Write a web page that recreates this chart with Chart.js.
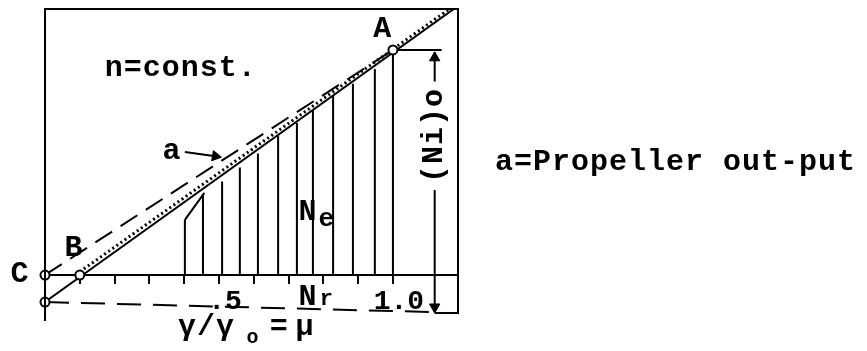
<!DOCTYPE html>
<html><head><meta charset="utf-8">
<script src="https://cdn.jsdelivr.net/npm/chart.js@4/dist/chart.umd.min.js"></script>
<style>html,body{margin:0;padding:0;background:#fff;overflow:hidden}canvas{display:block}</style>
</head><body>
<canvas id="c" width="867" height="351"></canvas>
<script>
// ---- data (mu = r/r0 on x, power on y; (Ni)o at A = 1.0) ----
const tickValues = [0.1, 0.2, 0.3, 0.4, 0.5, 0.6, 0.7, 0.8, 0.9, 1.0];
const tickLabels = ['', '', '', '', '.5', '', '', '', '', '1.0'];
// solid line Ni
const niMu  = [0, 1.175];
const niVal = [-0.12, 1.182];
// a = propeller out-put (dotted), starting at B
const propMu  = [0.10, 1.175];
const propVal = [0.014, 1.196];
// dashed line C -> A
const caMu  = [0, 1.0];
const caVal = [0, 1.0];
// lower dashed base line
const baseMu  = [0, 1.12];
const baseVal = [-0.12, -0.165];
// Ne hatching (vertical lines)
const hatchMu  = [0.402, 0.454, 0.509, 0.560, 0.612, 0.670, 0.724, 0.770, 0.828, 0.885, 0.948, 1.0];
const hatchTop = [0.245, 0.355, 0.415, 0.478, 0.540, 0.620, 0.675, 0.735, 0.800, 0.850, 0.915, 1.0];
// Ne lower edge segment
const neMu  = [0.402, 0.458];
const neVal = [0.245, 0.365];
// marked points L, C, B, A
const ptMu  = [0, 0, 0.10, 1.0];
const ptVal = [-0.12, 0, 0, 1.0];
// arrow for label a
const arrAMu  = [0.402, 0.495];
const arrAVal = [0.547, 0.527];
// (Ni)o dimension
const dimHMu = [1.0, 1.14], dimHVal = [1.0, 1.0];
const dimUMu = [1.12, 1.12], dimUVal = [0.99, 0.86];
const dimLMu = [1.12, 1.12], dimLVal = [0.378, -0.165];
// arrowheads
const headMu  = [0.49, 1.12, 1.12];
const headVal = [0.528, 0.965, -0.142];
const headRot = [100, 0, 180];

const X_MIN = 0, X_MAX = 1.187, Y_MIN = -0.191, Y_MAX = 1.182;

const pts = (xs, ys) => xs.map((x, i) => ({x, y: ys[i]}));
const hatchData = [];
hatchMu.forEach((m, i) => { hatchData.push({x: m, y: 0}, {x: m, y: hatchTop[i]}, {x: m, y: null}); });

const line = (data, extra) => Object.assign({
  data, showLine: true, borderColor: '#000', borderWidth: 2, pointRadius: 0,
  fill: false, tension: 0, spanGaps: false
}, extra || {});

const FONT = 'bold 30px "Liberation Mono", "Courier New", monospace';

const annot = {
  id: 'annot',
  afterDatasetsDraw(chart) {
    const ctx = chart.ctx, xs = chart.scales.x, ys = chart.scales.y, ca = chart.chartArea;
    const px = m => xs.getPixelForValue(m), py = v => ys.getPixelForValue(v);
    ctx.save();
    // frame
    ctx.strokeStyle = '#000'; ctx.lineWidth = 2;
    ctx.beginPath();
    ctx.moveTo(ca.left, ca.bottom + 3); ctx.lineTo(ca.left, ca.top);
    ctx.lineTo(ca.right, ca.top); ctx.lineTo(ca.right, py(-0.169));
    ctx.lineTo(px(1.12), py(-0.169));
    ctx.stroke();
    // texts
    ctx.fillStyle = '#000';
    ctx.font = FONT;
    ctx.letterSpacing = '1px';
    ctx.textBaseline = 'middle';
    const t = (s, m, v, align, font) => { ctx.font = font || FONT; ctx.textAlign = align || 'center'; ctx.fillText(s, px(m), py(v)); };
    t('n=const.', 0.172, 0.92, 'left');
    t('a=Propeller out-put', 1.293, 0.502, 'left');
    t('A', 0.971, 1.089);
    t('B', 0.083, 0.12);
    t('C', -0.072, 0.004);
    t('a', 0.365, 0.547);
    t('N', 0.756, 0.276); t('e', 0.81, 0.249, 'center', 'bold 26px "Liberation Mono", monospace');
    t('N', 0.756, -0.098); t('r', 0.81, -0.11, 'center', 'bold 22px "Liberation Mono", monospace');
    t('γ/γ', 0.382, -0.231, 'left');
    t('o', 0.598, -0.28, 'center', 'bold 20px "Liberation Mono", monospace');
    t('=', 0.646, -0.231, 'left');
    t('μ', 0.72, -0.231, 'left');
    // rotated (Ni)o
    ctx.font = FONT; ctx.textAlign = 'center';
    ctx.translate(px(1.12), py(0.62));
    ctx.rotate(-Math.PI / 2);
    ctx.fillText('(Ni)o', 0, 0);
    ctx.restore();
  }
};

new Chart(document.getElementById('c'), {
  type: 'scatter',
  data: {
    datasets: [
      { data: pts(ptMu, ptVal), pointRadius: 4.5, pointBackgroundColor: '#fff', pointBorderColor: '#000', pointBorderWidth: 2, showLine: false, clip: false },
      { data: pts(headMu, headVal), pointStyle: 'triangle', pointRotation: headRot, pointRadius: 6, pointBackgroundColor: '#000', pointBorderColor: '#000', pointBorderWidth: 1, showLine: false, clip: false },
      line(pts(niMu, niVal)),
      line(pts(propMu, propVal), { borderWidth: 3, borderDash: [2, 3] }),
      line(pts(caMu, caVal), { borderDash: [20, 10] }),
      line(pts(baseMu, baseVal), { borderDash: [24, 12], clip: false }),
      line(hatchData),
      line(pts(neMu, neVal)),
      line(pts(arrAMu, arrAVal)),
      line(pts(dimHMu, dimHVal), { clip: false }),
      line(pts(dimUMu, dimUVal), { clip: false }),
      line(pts(dimLMu, dimLVal), { clip: false })
    ]
  },
  options: {
    responsive: false, animation: false, events: [],
    layout: { padding: { left: 45, top: 9, right: 409, bottom: 33 } },
    plugins: { legend: { display: false }, tooltip: { enabled: false } },
    scales: {
      x: {
        type: 'linear', min: X_MIN, max: X_MAX, position: { y: 0 },
        afterBuildTicks: s => { s.ticks = tickValues.map(v => ({ value: v })); },
        grid: { drawOnChartArea: false, drawTicks: true, tickLength: 8, color: '#000', lineWidth: 2 },
        border: { display: true, color: '#000', width: 2 },
        ticks: {
          color: '#000', padding: 2, maxRotation: 0, autoSkip: false, labelOffset: 6,
          font: { family: '"Liberation Mono", monospace', size: 28, weight: 'bold' },
          callback: (v, i) => tickLabels[i]
        }
      },
      y: { type: 'linear', min: Y_MIN, max: Y_MAX, display: false }
    }
  },
  plugins: [annot]
});
</script>
</body></html>
